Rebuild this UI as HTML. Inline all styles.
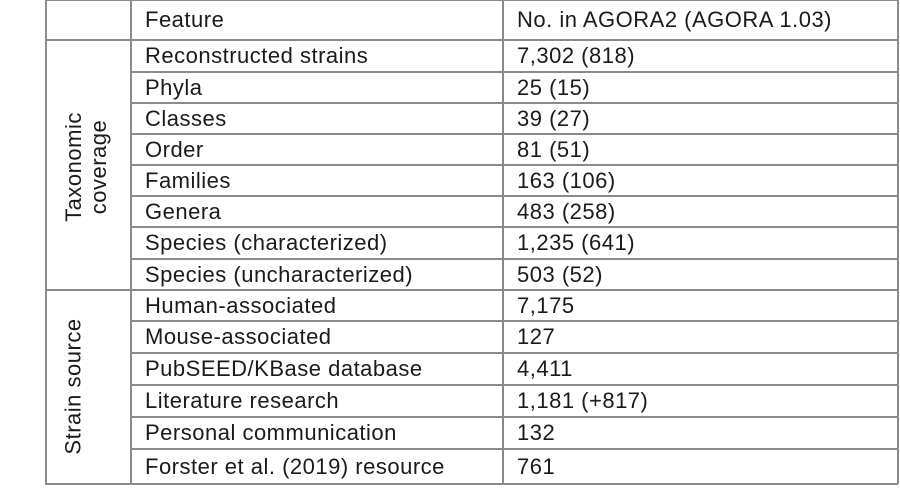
<!DOCTYPE html>
<html><head><meta charset="utf-8"><style>
body{margin:0;width:900px;height:494px;background:#fff;position:relative;overflow:hidden;font-family:"Liberation Sans",sans-serif;color:#1a1a1a}
.h{position:absolute;height:2px;background:#8a8a8a}
.v{position:absolute;width:2px;background:#8a8a8a}
.t{position:absolute;font-size:22px;letter-spacing:0.5px;line-height:22px;white-space:nowrap}
.r{position:absolute;font-size:22px;letter-spacing:0.5px;white-space:nowrap;transform:rotate(-90deg);transform-origin:center;text-align:center;line-height:25px}
</style></head><body>
<div id="tbl"></div>
<script>
const rowsY=[0,40,72,103,134,165,196,227,259,290,321,353,385,417,449,484];
const features=["Feature","Reconstructed strains","Phyla","Classes","Order","Families","Genera","Species (characterized)","Species (uncharacterized)","Human-associated","Mouse-associated","PubSEED/KBase database","Literature research","Personal communication","Forster et al. (2019) resource"];
const values=["No. in AGORA2 (AGORA 1.03)","7,302 (818)","25 (15)","39 (27)","81 (51)","163 (106)","483 (258)","1,235 (641)","503 (52)","7,175","127","4,411","1,181 (+817)","132","761"];
const b=document.body;
function line(cls,x,y,w,h,name){const d=document.createElement('div');d.className=cls;d.style.left=x+'px';d.style.top=y+'px';if(w)d.style.width=w+'px';if(h)d.style.height=h+'px';


b.appendChild(d);}
rowsY.forEach((y,i)=>{const full=(i===0||i===1||i===9||i===15);line('h',full?45:131,y-1,full?853:767,0,'row-border');});
line('v',45,0,0,484,'left-border');
line('v',130,0,0,484,'column-border');
line('v',502,0,0,484,'column-border');
line('v',897,0,0,484,'right-border');
for(let i=0;i<features.length;i++){const mid=(rowsY[i]+rowsY[i+1])/2;
const a=document.createElement('div');a.className='t';a.style.left='145px';a.style.top=(mid-11)+'px';a.textContent=features[i];


b.appendChild(a);
const c=document.createElement('div');c.className='t';c.style.left='517px';c.style.top=(mid-11)+'px';c.textContent=values[i];


b.appendChild(c);}
const d1=document.createElement('div');d1.className='r';d1.innerHTML='Taxonomic<br>coverage';d1.style.width='200px';d1.style.left=(86-100)+'px';d1.style.top=(167-25)+'px';


b.appendChild(d1);
const d2=document.createElement('div');d2.className='r';d2.textContent='Strain source';d2.style.width='200px';d2.style.left=(73-100)+'px';d2.style.top=(387-13)+'px';


b.appendChild(d2);
</script>
</body></html>
